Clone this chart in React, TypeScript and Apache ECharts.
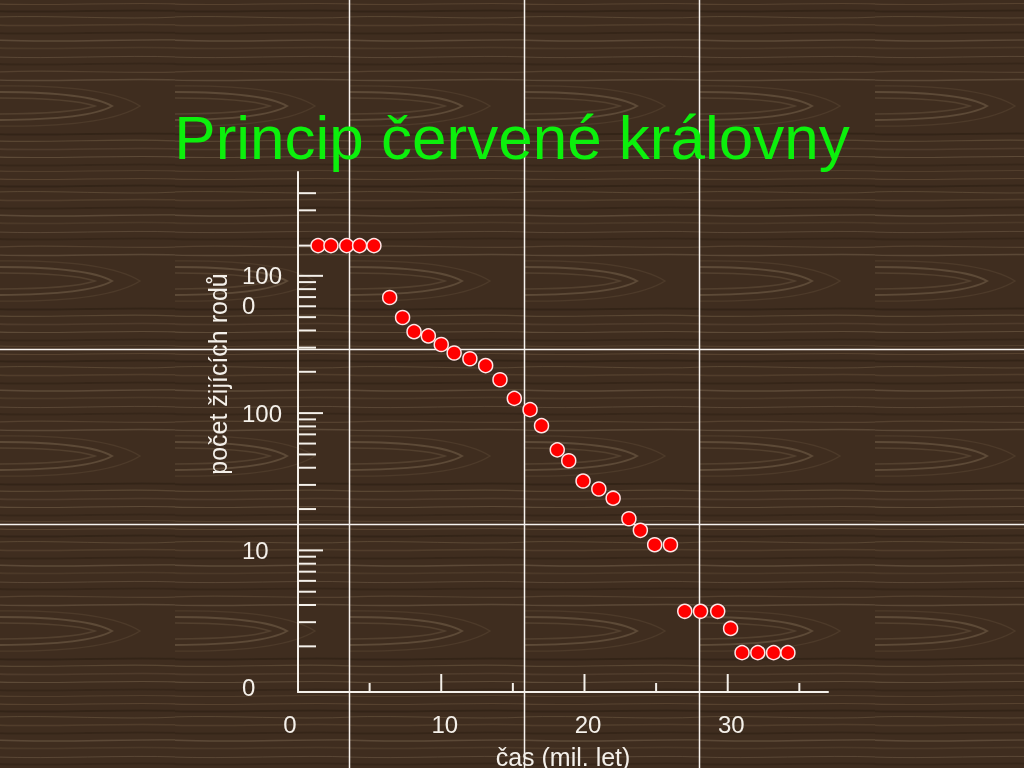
import React, { useEffect, useRef } from "react";
import * as echarts from "echarts";

// ---- data ----
const timeMy = [1.4, 2.3, 3.4, 4.3, 5.3, 6.4, 7.3, 8.1, 9.1, 10.0, 10.9, 12.0, 13.1, 14.1, 15.1, 16.2, 17.0, 18.1, 18.9, 19.9, 21.0, 22.0, 23.1, 23.9, 24.9, 26.0, 27.0, 28.1, 29.3, 30.2, 31.0, 32.1, 33.2, 34.2];
const livingGenera = [1660, 1660, 1660, 1660, 1660, 695, 497, 392, 365, 316, 274, 249, 222, 175, 128, 106, 81, 54, 45, 32, 28, 24, 17, 14, 11, 11, 3.6, 3.6, 3.6, 2.7, 1.8, 1.8, 1.8, 1.8];

const yMajorTicks = [10, 100, 1000];
const yMinorTicks = [2, 3, 4, 5, 6, 7, 8, 9, 20, 30, 40, 50, 60, 70, 80, 90, 200, 300, 400, 500, 600, 700, 800, 900, 1660, 3000, 4000];
const xMajorTicks = [10, 20, 30];
const xMinorTicks = [5, 15, 25, 35];

const titleText = "Princip červené královny";
const yTitle = "počet žijících rodů";
const xTitle = "čas (mil. let)";

const AXIS = "#f4f0ea";
const FONT = "'Liberation Sans', Arial, sans-serif";

// wood tile
const grain = (y: number, c: string, w: number, o: number, d1 = 2, d2 = -2) =>
  `<path d="M-5 ${y} C55 ${y + d1} 120 ${y + d2} 180 ${y}" stroke="${c}" stroke-width="${w}" opacity="${o}"/>`;
const tileSvg =
  `<svg xmlns="http://www.w3.org/2000/svg" width="175" height="175">` +
  `<rect width="175" height="175" fill="#3f2d1f"/>` +
  `<g fill="none">` +
  grain(4, "#5c4733", 1.2, 0.8) +
  grain(11, "#2c1e13", 2, 0.6) +
  grain(17, "#6a5640", 1, 0.6, -2, 3) +
  grain(25, "#584430", 1.5, 0.7) +
  grain(33, "#2b1d12", 2, 0.5) +
  grain(40, "#7a6650", 1.3, 0.5, 3, -1) +
  grain(48, "#4f3c2a", 1.6, 0.8) +
  grain(57, "#6b5742", 1, 0.6) +
  grain(64, "#2d1f14", 2.2, 0.5) +
  grain(72, "#5e4a36", 1.2, 0.7, -3, 2) +
  grain(80, "#7d6952", 1.4, 0.45) +
  `<path d="M-5 92 C50 92 95 96 112 106 C95 116 50 120 -5 120" stroke="#806c54" stroke-width="2" opacity="0.45"/>` +
  `<path d="M-5 98 C45 98 80 101 95 106 C80 111 45 114 -5 114" stroke="#6a5640" stroke-width="1.4" opacity="0.45"/>` +
  `<path d="M-5 86 C60 85 115 90 140 106 C115 122 60 127 -5 126" stroke="#5e4a35" stroke-width="1.3" opacity="0.45"/>` +
  grain(134, "#2c1e13", 2, 0.6) +
  grain(141, "#6a5640", 1.2, 0.6, 2, -3) +
  grain(149, "#564230", 1.6, 0.7) +
  grain(157, "#7b6750", 1.1, 0.5) +
  grain(165, "#2d1f14", 2, 0.5) +
  grain(171, "#5a4632", 1.2, 0.7) +
  `</g></svg>`;
const tileUrl = "data:image/svg+xml;charset=utf-8," + encodeURIComponent(tileSvg);

export default function App() {
  const ref = useRef<HTMLDivElement>(null);

  useEffect(() => {
    if (!ref.current) return;
    const chart = echarts.init(ref.current, null, { renderer: "svg" });

    const tickSeries = (values: number[], axis: "x" | "y", len: number) => ({
      type: "custom",
      silent: true,
      z: 3,
      data: values.map((v) => (axis === "y" ? [0, v] : [v, 1])),
      renderItem: (params: any, api: any) => {
        const cs = params.coordSys;
        const p = api.coord([api.value(0), api.value(1)]);
        if (axis === "y") {
          return {
            type: "line",
            shape: { x1: cs.x, y1: p[1], x2: cs.x + len, y2: p[1] },
            style: { stroke: AXIS, lineWidth: 2 },
          };
        }
        const yb = cs.y + cs.height;
        return {
          type: "line",
          shape: { x1: p[0], y1: yb, x2: p[0], y2: yb - len },
          style: { stroke: AXIS, lineWidth: 2 },
        };
      },
    });

    const seam = (x1: number, y1: number, x2: number, y2: number) => ({
      type: "line",
      z: -9,
      silent: true,
      shape: { x1, y1, x2, y2 },
      style: { stroke: "#f6f2ee", lineWidth: 1.5 },
    });

    chart.setOption({
      animation: false,
      textStyle: { fontFamily: FONT },
      title: {
        text: titleText,
        left: "center",
        top: 101,
        textStyle: { color: "#0cf00c", fontSize: 62, fontWeight: "normal", fontFamily: FONT },
      },
      graphic: [
        {
          type: "rect",
          z: -10,
          silent: true,
          shape: { x: 0, y: 0, width: 1024, height: 768 },
          style: { fill: { image: tileUrl, repeat: "repeat", imageWidth: 175, imageHeight: 175 } as any },
        },
        seam(349.5, 0, 349.5, 768),
        seam(524.5, 0, 524.5, 768),
        seam(699.5, 0, 699.5, 768),
        seam(0, 349.5, 1024, 349.5),
        seam(0, 524.5, 1024, 524.5),
        {
          type: "text",
          x: 218,
          y: 374,
          rotation: Math.PI / 2,
          silent: true,
          style: {
            text: yTitle,
            fill: AXIS,
            fontSize: 25,
            fontFamily: FONT,
            align: "center",
            verticalAlign: "middle",
          },
        },
      ],
      grid: { left: 298, top: 172, width: 530, height: 520, containLabel: false, outerBoundsMode: "none" },
      xAxis: {
        type: "value",
        min: 0,
        max: 37,
        interval: 10,
        name: xTitle,
        nameLocation: "middle",
        nameGap: 52,
        nameTextStyle: { color: AXIS, fontSize: 25, fontFamily: FONT },
        axisLine: { show: true, lineStyle: { color: AXIS, width: 2 } },
        axisTick: { show: false },
        splitLine: { show: false },
        axisLabel: {
          color: AXIS,
          fontSize: 24,
          margin: 20,
          showMaxLabel: false,
          formatter: (v: number) => (v === 0 ? "{z|0}" : `{n|${v}}`),
          rich: {
            z: { color: AXIS, fontSize: 24, fontFamily: FONT, padding: [0, 16, 0, 0] },
            n: { color: AXIS, fontSize: 24, fontFamily: FONT, padding: [0, 0, 0, 7] },
          },
        },
      },
      yAxis: {
        type: "log",
        logBase: 10,
        min: 0.93,
        max: 5706,
        axisLine: { show: true, lineStyle: { color: AXIS, width: 2 } },
        axisTick: { show: false },
        splitLine: { show: false },
        minorSplitLine: { show: false },
        axisLabel: {
          color: AXIS,
          fontSize: 24,
          fontFamily: FONT,
          align: "left",
          margin: 56,
          lineHeight: 30,
          padding: [4, 0, 0, 0],
          showMinLabel: false,
          showMaxLabel: false,
          formatter: (v: number) => {
            const r = Math.round(v);
            if (r === 1) return "0";
            if (r === 1000) return "\n100\n0";
            return String(r);
          },
        },
      },
      series: [
        tickSeries(yMajorTicks, "y", 25),
        tickSeries(yMinorTicks, "y", 18),
        tickSeries(xMajorTicks, "x", 18),
        tickSeries(xMinorTicks, "x", 9),
        {
          type: "scatter",
          z: 5,
          symbol: "circle",
          symbolSize: 14,
          itemStyle: { color: "#ff0000", borderColor: "#ffe4e4", borderWidth: 1.5, opacity: 1 },
          data: timeMy.map((t, i) => [t, livingGenera[i]]),
        },
      ],
    });

    return () => chart.dispose();
  }, []);

  return (
    <div
      ref={ref}
      style={{ position: "fixed", left: 0, top: 0, width: 1024, height: 768 }}
    />
  );
}
